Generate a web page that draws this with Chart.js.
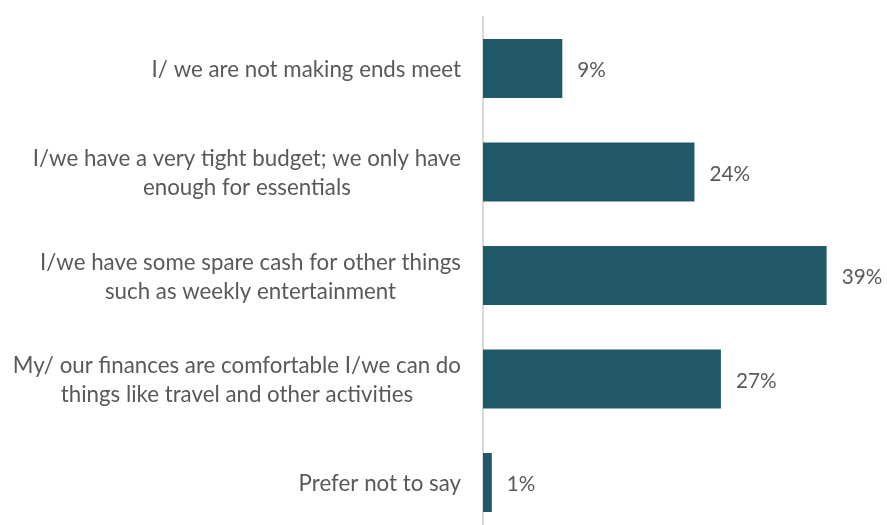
<!DOCTYPE html>
<html>
<head>
<meta charset="utf-8">
<script src="https://cdn.jsdelivr.net/npm/chart.js@4.4.1/dist/chart.umd.min.js"></script>
<style>
  html, body { margin: 0; padding: 0; background: #ffffff; overflow: hidden; }
  canvas { display: block; }
</style>
</head>
<body>
<canvas id="chart" width="887" height="543"></canvas>
<script>
// Household financial situation — share of respondents
const categories = [
  ["I/ we are not making ends meet"],
  ["I/we have a very tight budget; we only have", "enough for essentials"],
  ["I/we have some spare cash for other things", "such as weekly entertainment"],
  ["My/ our finances are comfortable I/we can do", "things like travel and other activities"],
  ["Prefer not to say"]
];
const shares = [9, 24, 39, 27, 1];

const FONT = "Lato, 'Liberation Sans', sans-serif";
const TEXT_GREY = "#595959";

// Category labels: each block sits right of centre against the axis,
// with its lines centred on one another
const categoryLabels = {
  id: 'categoryLabels',
  afterDraw(chart) {
    const ctx = chart.ctx;
    const yScale = chart.scales.y;
    const rightEdge = chart.chartArea.left - 22;
    const lineGap = 29;
    ctx.save();
    ctx.font = "22.3px " + FONT;
    ctx.fillStyle = TEXT_GREY;
    ctx.textAlign = "center";
    ctx.textBaseline = "middle";
    categories.forEach((lines, i) => {
      const cy = yScale.getPixelForValue(i) + 1.5;
      const widest = Math.max(...lines.map(t => ctx.measureText(t).width));
      const cx = rightEdge - widest / 2;
      const startY = cy - (lines.length - 1) * lineGap / 2;
      lines.forEach((t, k) => ctx.fillText(t, cx, startY + k * lineGap));
    });
    ctx.restore();
  }
};

// Percentage printed just past the end of each bar
const valueLabels = {
  id: 'valueLabels',
  afterDatasetsDraw(chart) {
    const ctx = chart.ctx;
    const meta = chart.getDatasetMeta(0);
    ctx.save();
    ctx.font = "20.7px " + FONT;
    ctx.fillStyle = TEXT_GREY;
    ctx.textAlign = "left";
    ctx.textBaseline = "middle";
    meta.data.forEach((bar, i) => {
      ctx.fillText(shares[i] + "%", bar.x + 15, bar.y + 2);
    });
    ctx.restore();
  }
};

new Chart(document.getElementById('chart'), {
  type: 'bar',
  data: {
    labels: categories,
    datasets: [{
      data: shares,
      backgroundColor: '#215968',
      borderWidth: 0,
      barPercentage: 0.57,
      categoryPercentage: 1
    }]
  },
  options: {
    indexAxis: 'y',
    responsive: false,
    animation: false,
    layout: { padding: { top: 16.75, bottom: 8.75, left: 0, right: 7.5 } },
    plugins: { legend: { display: false }, tooltip: { enabled: false } },
    scales: {
      x: {
        display: false,
        min: 0,
        max: 45
      },
      y: {
        afterFit(scale) {
          scale.width = 483;
          scale.paddingTop = 0;
          scale.paddingBottom = 0;
        },
        grid: { display: false, drawTicks: false },
        border: { display: true, color: '#d9d9d9', width: 2 },
        ticks: { display: false }
      }
    }
  },
  plugins: [categoryLabels, valueLabels]
});
</script>
</body>
</html>
